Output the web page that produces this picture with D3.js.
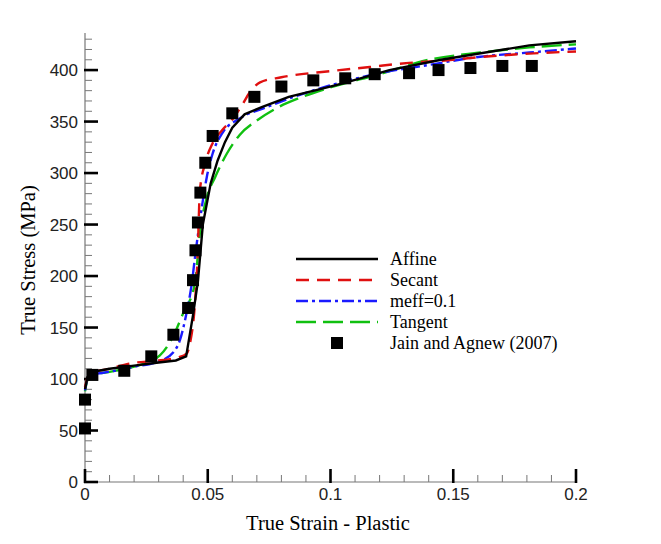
<!DOCTYPE html>
<html>
<head>
<meta charset="utf-8">
<script src="https://cdn.jsdelivr.net/npm/d3@7"></script>
<style>
  body { margin: 0; background: #fff; }
  svg { display: block; }
</style>
</head>
<body>
<div id="chart"></div>
<script>
// ---- data ----
const affineX = [0, 0.001, 0.003, 0.01, 0.02, 0.03, 0.037, 0.0412, 0.044, 0.046, 0.048, 0.0512, 0.054, 0.057, 0.06, 0.065, 0.072, 0.083, 0.095, 0.105, 0.124, 0.145, 0.181, 0.2];
const affineY = [90, 102, 107, 110, 113, 116, 118, 122, 162, 195, 250, 290, 312, 330, 344, 357, 364, 374, 381, 387, 400, 410, 424, 428];

const secantX = [0, 0.001, 0.003, 0.01, 0.018, 0.03, 0.038, 0.0415, 0.0428, 0.0448, 0.0458, 0.0468, 0.049, 0.052, 0.056, 0.06, 0.064, 0.067, 0.0713, 0.08, 0.1, 0.116, 0.132, 0.145, 0.158, 0.181, 0.2];
const secantY = [92, 101, 106, 110, 115, 118, 121, 125, 135, 174, 215, 283, 310, 329, 342, 352, 366, 378, 388, 393, 399, 403, 407, 409, 412, 416, 418];

const meffX = [0, 0.001, 0.003, 0.01, 0.02, 0.03, 0.036, 0.0387, 0.041, 0.0435, 0.045, 0.0476, 0.0496, 0.052, 0.056, 0.063, 0.074, 0.0875, 0.0997, 0.12, 0.14, 0.161, 0.181, 0.2];
const meffY = [89, 100, 104, 107, 112, 117, 126, 138, 160, 193, 222, 267, 296, 319, 339, 353, 364, 376, 385, 397, 405, 413, 417, 421];

const tangentX = [0, 0.001, 0.003, 0.01, 0.02, 0.0305, 0.0358, 0.04, 0.0448, 0.0468, 0.0497, 0.053, 0.0578, 0.063, 0.07, 0.078, 0.0875, 0.0997, 0.12, 0.14, 0.161, 0.181, 0.2];
const tangentY = [88, 99, 104, 107, 112, 123, 141, 164, 193, 242, 277, 296, 319, 337, 351, 363, 373, 383, 396, 410, 417, 422, 425];

const jainX = [0, 0, 0.003, 0.016, 0.027, 0.036, 0.042, 0.044, 0.045, 0.046, 0.047, 0.049, 0.052, 0.06, 0.069, 0.08, 0.093, 0.106, 0.118, 0.132, 0.144, 0.157, 0.17, 0.182];
const jainY = [52, 80, 104, 108, 122, 143, 169, 196, 225, 252, 281, 310, 336, 358, 374, 384, 390, 392, 396, 397, 400, 402, 404, 404];

const xTicks = [0, 0.05, 0.1, 0.15, 0.2];
const xTickLabels = ['0', '0.05', '0.1', '0.15', '0.2'];
const yTicks = [0, 50, 100, 150, 200, 250, 300, 350, 400];
const seriesNames = ['Affine', 'Secant', 'meff=0.1', 'Tangent'];
const markerName = 'Jain and Agnew (2007)';

// ---- layout ----
const width = 661;
const height = 544;

const x = d3.scaleLinear().domain([0, 0.2]).range([85, 576]);
const y = d3.scaleLinear().domain([0, 436]).range([482, 33]);

const sans = 'Liberation Sans, Arial, sans-serif';
const serif = 'Liberation Serif, Times New Roman, serif';

const svg = d3.select('#chart').append('svg')
  .attr('width', width)
  .attr('height', height);

// axis lines
svg.append('line')
  .attr('x1', x(0)).attr('x2', x(0))
  .attr('y1', y(0)).attr('y2', y(436))
  .attr('stroke', '#777').attr('stroke-width', 1.2);
svg.append('line')
  .attr('x1', x(0)).attr('x2', x(0.2))
  .attr('y1', y(0)).attr('y2', y(0))
  .attr('stroke', '#777').attr('stroke-width', 1.2);

// minor ticks (inward)
const yMinor = d3.range(0, 436, 10).filter(v => v % 50 !== 0);
svg.append('g').selectAll('line')
  .data(yMinor)
  .join('line')
  .attr('x1', x(0)).attr('x2', x(0) + 7)
  .attr('y1', d => y(d)).attr('y2', d => y(d))
  .attr('stroke', '#777').attr('stroke-width', 1);

const xMinor = d3.range(1, 20).map(i => i / 100).filter(v => Math.round(v * 100) % 5 !== 0);
svg.append('g').selectAll('line')
  .data(xMinor)
  .join('line')
  .attr('x1', d => x(d)).attr('x2', d => x(d))
  .attr('y1', y(0)).attr('y2', y(0) - 7)
  .attr('stroke', '#777').attr('stroke-width', 1);

// major ticks
svg.append('g').selectAll('line')
  .data(yTicks)
  .join('line')
  .attr('x1', x(0) - 1).attr('x2', x(0) + 13)
  .attr('y1', d => y(d)).attr('y2', d => y(d))
  .attr('stroke', '#000').attr('stroke-width', 2.6);

svg.append('g').selectAll('line')
  .data(xTicks)
  .join('line')
  .attr('x1', d => x(d)).attr('x2', d => x(d))
  .attr('y1', y(0) + 1).attr('y2', y(0) - 13)
  .attr('stroke', '#000').attr('stroke-width', 2.6);

// tick labels
svg.append('g').selectAll('text')
  .data(yTicks)
  .join('text')
  .attr('x', x(0) - 7)
  .attr('y', d => y(d) + 6)
  .attr('text-anchor', 'end')
  .attr('font-family', sans)
  .attr('font-size', 17)
  .attr('fill', '#222')
  .text(d => d);

svg.append('g').selectAll('text')
  .data(xTicks)
  .join('text')
  .attr('x', d => x(d))
  .attr('y', y(0) + 18)
  .attr('text-anchor', 'middle')
  .attr('font-family', sans)
  .attr('font-size', 17)
  .attr('fill', '#222')
  .text((d, i) => xTickLabels[i]);

// axis titles
svg.append('text')
  .attr('x', 328).attr('y', 530)
  .attr('text-anchor', 'middle')
  .attr('font-family', serif)
  .attr('font-size', 20.5)
  .text('True Strain - Plastic');

svg.append('text')
  .attr('transform', 'translate(35,260) rotate(-90)')
  .attr('text-anchor', 'middle')
  .attr('font-family', serif)
  .attr('font-size', 20.5)
  .text('True Stress (MPa)');

// ---- curves ----
const series = [
  { xs: affineX, ys: affineY, color: '#000000', dash: null, curve: d3.curveLinear },
  { xs: secantX, ys: secantY, color: '#e01010', dash: '13,8', curve: d3.curveMonotoneX },
  { xs: meffX, ys: meffY, color: '#1a1aff', dash: '12,4,3,4', curve: d3.curveMonotoneX },
  { xs: tangentX, ys: tangentY, color: '#10c010', dash: '20,7', curve: d3.curveMonotoneX }
];

const plot = svg.append('g');

// draw order: tangent, meff, secant, affine on top
[3, 2, 1, 0].forEach(i => {
  const s = series[i];
  const pts = s.xs.map((v, j) => [v, s.ys[j]]);
  const line = d3.line()
    .x(d => x(d[0]))
    .y(d => y(d[1]))
    .curve(s.curve);
  plot.append('path')
    .attr('d', line(pts))
    .attr('fill', 'none')
    .attr('stroke', s.color)
    .attr('stroke-width', 2.4)
    .attr('stroke-dasharray', s.dash);
});

// experimental markers
const ms = 12;
plot.append('g').selectAll('rect')
  .data(jainX.map((v, j) => [v, jainY[j]]))
  .join('rect')
  .attr('x', d => x(d[0]) - ms / 2)
  .attr('y', d => y(d[1]) - ms / 2)
  .attr('width', ms).attr('height', ms)
  .attr('fill', '#000');

// ---- legend ----
const legend = svg.append('g');
const lx0 = 296, lx1 = 378, tx = 390, ly0 = 259, dy = 21;

series.forEach((s, i) => {
  legend.append('line')
    .attr('x1', lx0).attr('x2', lx1)
    .attr('y1', ly0 + i * dy).attr('y2', ly0 + i * dy)
    .attr('stroke', s.color)
    .attr('stroke-width', 2.4)
    .attr('stroke-dasharray', s.dash);
  legend.append('text')
    .attr('x', tx).attr('y', ly0 + i * dy + 6)
    .attr('font-family', serif)
    .attr('font-size', 18)
    .text(seriesNames[i]);
});

legend.append('rect')
  .attr('x', 337 - ms / 2).attr('y', ly0 + 4 * dy - ms / 2)
  .attr('width', ms).attr('height', ms)
  .attr('fill', '#000');
legend.append('text')
  .attr('x', tx).attr('y', ly0 + 4 * dy + 6)
  .attr('font-family', serif)
  .attr('font-size', 18)
  .text(markerName);
</script>
</body>
</html>
